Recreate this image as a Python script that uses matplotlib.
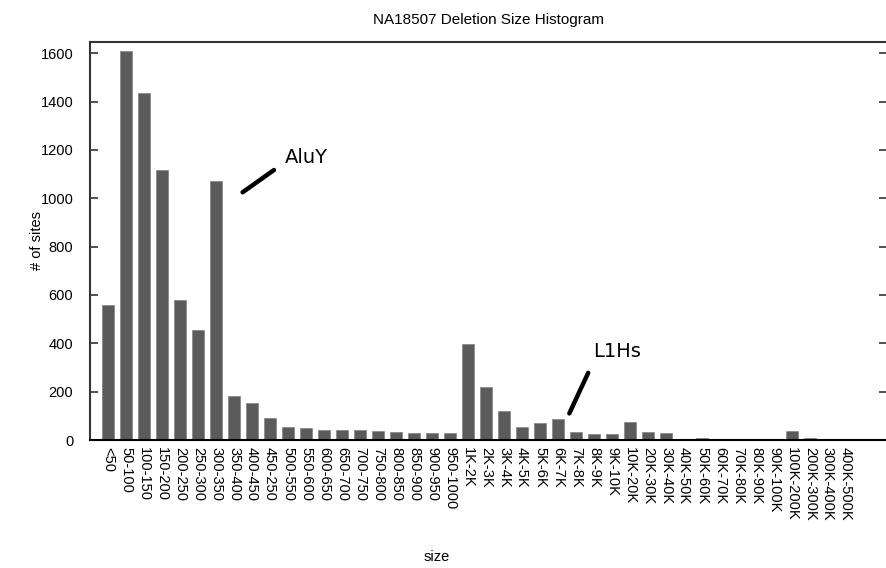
import numpy as np
import matplotlib
matplotlib.use("Agg")
import matplotlib.pyplot as plt

plt.rcParams['font.family'] = ['Liberation Sans', 'DejaVu Sans']

sizes = ["<50", "50-100", "100-150", "150-200", "200-250", "250-300", "300-350",
         "350-400", "400-450", "450-250", "500-550", "550-600", "600-650", "650-700",
         "700-750", "750-800", "800-850", "850-900", "900-950", "950-1000",
         "1K-2K", "2K-3K", "3K-4K", "4K-5K", "5K-6K", "6K-7K", "7K-8K", "8K-9K",
         "9K-10K", "10K-20K", "20K-30K", "30K-40K", "40K-50K", "50K-60K", "60K-70K",
         "70K-80K", "80K-90K", "90K-100K", "100K-200K", "200K-300K", "300K-400K",
         "400K-500K"]
sites = [557, 1609, 1437, 1117, 579, 454, 1071,
         180, 152, 93, 53, 48, 43, 43,
         43, 39, 32, 28, 28, 28,
         397, 218, 120, 55, 72, 87, 32, 24,
         24, 76, 32, 28, 5, 8, 3,
         6, 0, 3, 39, 8, 5,
         1]

fig = plt.figure(figsize=(8.86, 5.68), dpi=100)
ax = fig.add_axes([90/886, 128/568, 797/886, 398.3/568])

x = np.arange(len(sizes))
ax.bar(x, sites, width=0.7, color='#5b5b5b', edgecolor='#8a8a8a', linewidth=0.6)

ax.set_xlim(-1.0, 43.28)
ax.set_ylim(0, 1648)
ax.set_yticks(np.arange(0, 1601, 200))
ax.set_xticks(x)
ax.set_xticklabels(sizes, rotation=-90, ha='center', va='top', fontsize=10.5)
ax.tick_params(axis='x', length=0, pad=5)
ax.tick_params(axis='y', direction='in', length=6, width=1.2, right=True,
               labelsize=10.5, pad=12, color='#333333')

for s in ax.spines.values():
    s.set_linewidth(1.5)
    s.set_color('#333333')
ax.spines['bottom'].set_color('black')

ax.set_title("NA18507 Deletion Size Histogram", fontsize=11, pad=13)
ax.set_ylabel("# of sites", fontsize=10.5)
ax.yaxis.set_label_coords(-0.058, 0.5)
ax.set_xlabel("size", fontsize=10.5)
ax.xaxis.set_label_coords(0.435, -0.276)

# annotations
ax.plot([7.48, 9.22], [1025, 1117], color='black', lw=3.2, solid_capstyle='round')
ax.text(11.03, 1169, "AluY", family='DejaVu Sans', fontsize=14, ha='center', va='center')
ax.plot([25.63, 26.68], [110, 278], color='black', lw=3.2, solid_capstyle='round')
ax.text(28.28, 368, "L1Hs", family='DejaVu Sans', fontsize=14, ha='center', va='center')

fig.savefig("out.png", dpi=100)
